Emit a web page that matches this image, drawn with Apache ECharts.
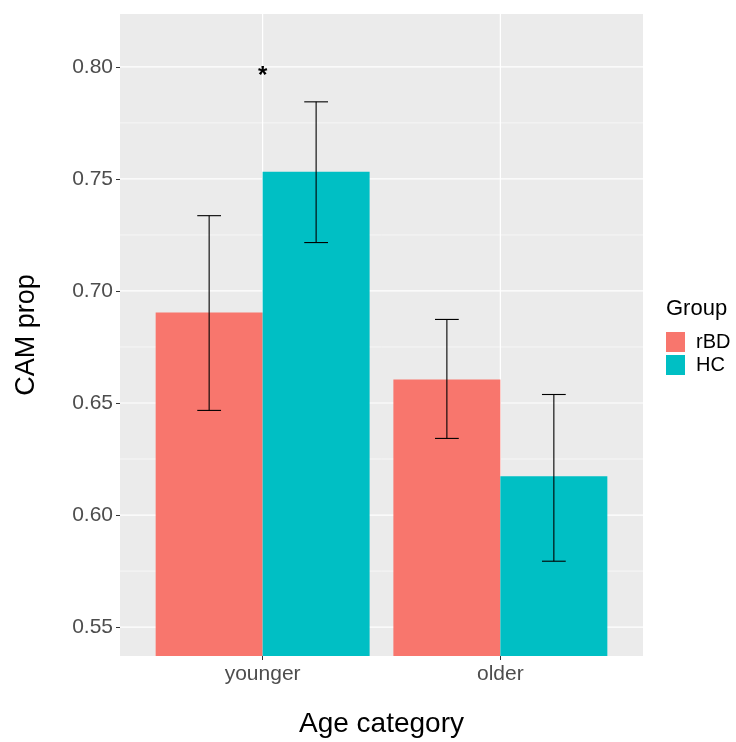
<!DOCTYPE html>
<html>
<head>
<meta charset="utf-8">
<script src="https://cdn.jsdelivr.net/npm/echarts@6/dist/echarts.min.js"></script>
<style>html,body{margin:0;padding:0;background:#fff}#main{width:736px;height:742px}</style>
</head>
<body>
<div id="main"></div>
<script>
const categories = ['younger', 'older'];
const groups = ['rBD', 'HC'];
const colors = ['#F8766D', '#00BFC4'];
const rBDMean = [0.6904, 0.6605];
const rBDLow = [0.6467, 0.6342];
const rBDHigh = [0.7336, 0.6873];
const HCMean = [0.7532, 0.6173];
const HCLow = [0.7216, 0.5794];
const HCHigh = [0.7844, 0.6538];
const yTicks = [0.55, 0.60, 0.65, 0.70, 0.75, 0.80];
const yMinor = [0.575, 0.625, 0.675, 0.725, 0.775];
const sigMarks = [{ cat: 'younger', y: 0.7975, text: '*' }];

const yMin = 0.5371, yMax = 0.8236;
const xPos = categories.map((c, i) => i + 1);
const dodge = 0.45;
const FONT = 'Liberation Sans, Arial, sans-serif';

const chart = echarts.init(document.getElementById('main'), null, { renderer: 'canvas' });

function gridLineSeries(vals, horizontal, width) {
  return {
    type: 'custom', silent: true, z: 1, clip: true,
    data: vals.map(v => horizontal ? [1, v] : [v, yMin]),
    renderItem: function (params, api) {
      const cs = params.coordSys;
      if (horizontal) {
        const y = api.coord([1, api.value(1)])[1];
        return { type: 'line', shape: { x1: cs.x, y1: y, x2: cs.x + cs.width, y2: y }, style: { stroke: '#fff', lineWidth: width } };
      } else {
        const x = api.coord([api.value(0), yMin])[0];
        return { type: 'line', shape: { x1: x, y1: cs.y, x2: x, y2: cs.y + cs.height }, style: { stroke: '#fff', lineWidth: width } };
      }
    }
  };
}

function barSeries(gi, means, lows, highs) {
  const off = (gi === 0 ? -0.5 : 0.5) * dodge;
  return {
    name: groups[gi], type: 'custom', z: 3, clip: true,
    itemStyle: { color: colors[gi] },
    data: xPos.map((x, i) => [x, means[i], lows[i], highs[i]]),
    renderItem: function (params, api) {
      const cs = params.coordSys;
      const x = api.value(0) + off;
      const top = api.coord([x, api.value(1)]);
      const w = api.size([dodge, 0])[0];
      const bottom = cs.y + cs.height;
      return {
        type: 'rect',
        shape: { x: top[0] - w / 2, y: top[1], width: w, height: bottom - top[1] },
        style: { fill: colors[gi] }
      };
    }
  };
}

function errSeries(gi, means, lows, highs) {
  const off = (gi === 0 ? -0.5 : 0.5) * dodge;
  return {
    type: 'custom', z: 4, silent: true, clip: true,
    data: xPos.map((x, i) => [x, lows[i], highs[i]]),
    renderItem: function (params, api) {
      const x = api.value(0) + off;
      const lo = api.coord([x, api.value(1)]);
      const hi = api.coord([x, api.value(2)]);
      const cw = api.size([0.1, 0])[0] / 2;
      const st = { stroke: '#000', lineWidth: 1.1 };
      return {
        type: 'group',
        children: [
          { type: 'line', shape: { x1: lo[0], y1: lo[1], x2: hi[0], y2: hi[1] }, style: st },
          { type: 'line', shape: { x1: hi[0] - cw, y1: hi[1], x2: hi[0] + cw, y2: hi[1] }, style: st },
          { type: 'line', shape: { x1: lo[0] - cw, y1: lo[1], x2: lo[0] + cw, y2: lo[1] }, style: st }
        ]
      };
    }
  };
}

const option = {
  backgroundColor: '#fff',
  animation: false,
  grid: { left: 120, right: 93, top: 14, bottom: 86, outerBoundsMode: 'none', containLabel: false, show: true, backgroundColor: '#EBEBEB', borderWidth: 0 },
  xAxis: {
    type: 'value', min: 0.4, max: 2.6,
    name: 'Age category', nameLocation: 'middle', nameGap: 54,
    nameTextStyle: { fontSize: 28, color: '#000', fontFamily: FONT },
    axisLine: { show: false },
    splitLine: { show: false },
    axisTick: { show: true, length: 4, customValues: xPos, lineStyle: { color: '#333', width: 1 } },
    axisLabel: {
      customValues: xPos, margin: 8, fontSize: 21, color: '#4D4D4D', fontFamily: FONT,
      formatter: v => categories[Math.round(v) - 1] || ''
    }
  },
  yAxis: {
    type: 'value', min: yMin, max: yMax,
    name: 'CAM prop', nameLocation: 'middle', nameGap: 80, nameRotate: 90,
    nameTextStyle: { fontSize: 27, color: '#000', fontFamily: FONT },
    axisLine: { show: false },
    splitLine: { show: false },
    axisTick: { show: true, length: 4, customValues: yTicks, lineStyle: { color: '#333', width: 1 } },
    axisLabel: {
      customValues: yTicks, margin: 7, fontSize: 21, color: '#4D4D4D', fontFamily: FONT,
      formatter: v => v.toFixed(2)
    }
  },
  legend: {
    data: groups, orient: 'vertical', left: 666, top: 332,
    itemWidth: 19, itemHeight: 20, itemGap: 3, icon: 'rect',
    textStyle: { fontSize: 20, color: '#000', fontFamily: FONT, padding: [2, 0, 0, 6] },
    padding: 0, selectedMode: false
  },
  graphic: [{
    type: 'text', left: 666, top: 298,
    style: { text: 'Group', fontSize: 22, fill: '#000', fontFamily: FONT }
  }],
  series: [
    gridLineSeries(yMinor, true, 0.6),
    gridLineSeries(yTicks, true, 1.2),
    gridLineSeries(xPos, false, 1.2),
    barSeries(0, rBDMean, rBDLow, rBDHigh),
    barSeries(1, HCMean, HCLow, HCHigh),
    errSeries(0, rBDMean, rBDLow, rBDHigh),
    errSeries(1, HCMean, HCLow, HCHigh),
    {
      type: 'custom', z: 5, silent: true,
      data: sigMarks.map(m => [categories.indexOf(m.cat) + 1, m.y, m.text]),
      renderItem: function (params, api) {
        const p = api.coord([api.value(0), api.value(1)]);
        return {
          type: 'text', x: p[0], y: p[1] + 4,
          style: { text: sigMarks[params.dataIndex].text, fontSize: 24, fontWeight: 'bold', fill: '#000', align: 'center', verticalAlign: 'middle', fontFamily: FONT }
        };
      }
    }
  ]
};
chart.setOption(option);
</script>
</body>
</html>
